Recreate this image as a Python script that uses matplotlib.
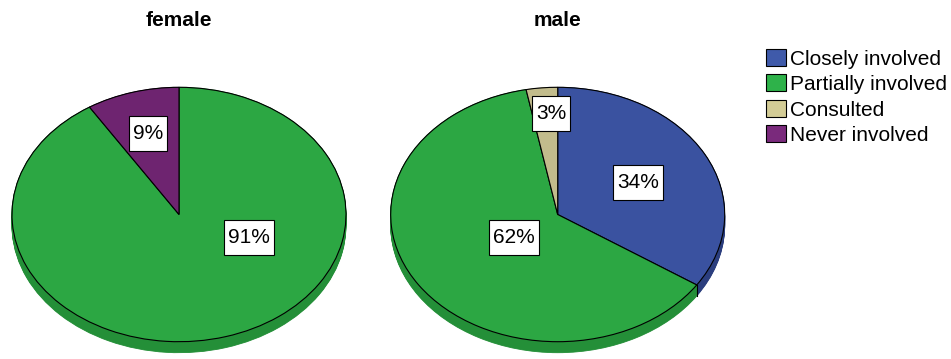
import numpy as np
import matplotlib
matplotlib.use("Agg")
import matplotlib.pyplot as plt
from matplotlib.patches import Patch
from matplotlib.path import Path

plt.rcParams['font.family'] = ['Liberation Sans', 'DejaVu Sans']

# data
categories = ["Closely involved", "Partially involved", "Consulted", "Never involved"]
groups = ["female", "male"]
female_pct = [0, 91, 0, 9]
male_pct = [34, 62, 3, 0]

# style
top_colors = ["#3A52A0", "#2CA743", "#C2BC8C", "#6E2470"]
side_colors = ["#2B3E7E", "#248F38", "#A09A6E", "#521A54"]
legend_colors = ["#3F5AAA", "#2EB24A", "#D3CC96", "#7A2A7C"]

# label positions (in unit-pie coords), one per non-zero slice
label_pos = {
    "female": {"Partially involved": (0.419, -0.181), "Never involved": (-0.186, 0.638)},
    "male": {"Closely involved": (0.479, 0.252), "Partially involved": (-0.262, -0.181),
             "Consulted": (-0.040, 0.795)},
}


def label_box(x0, y0, width, height, mutation_size):
    # rectangle with more vertical than horizontal padding, like SPSS labels
    px, py = 0.2 * mutation_size, 0.38 * mutation_size
    x0, y0 = x0 - px, y0 - py
    x1, y1 = x0 + width + 2 * px, y0 + height + 2 * py
    return Path([(x0, y0), (x1, y0), (x1, y1), (x0, y1), (x0, y0)], closed=True)


W, H = 951, 359
fig = plt.figure(figsize=(W / 100, H / 100), dpi=100)

# pie boxes in pixels
centers_x = [179, 557.7]
rx_px, ry_px, depth_px = 167, 127.2, 11
top_px = 87.3
depth = depth_px / ry_px

for g, cx, vals in zip(groups, centers_x, [female_pct, male_pct]):
    left = (cx - rx_px) / W
    bottom = (H - (top_px + 2 * ry_px + depth_px)) / H
    ax = fig.add_axes([left, bottom, 2 * rx_px / W, (2 * ry_px + depth_px) / H])

    idx = [i for i, v in enumerate(vals) if v > 0]
    v = [vals[i] for i in idx]

    # side band: stacked darker copies shifted downwards
    for s in np.linspace(depth, 0.0, 14):
        wedges, _ = ax.pie(v, colors=[side_colors[i] for i in idx], startangle=90,
                           counterclock=False, center=(0, -s),
                           wedgeprops=dict(linewidth=0.6))
        for w in wedges:
            w.set_edgecolor(w.get_facecolor())

    # top face
    ax.pie(v, colors=[top_colors[i] for i in idx], startangle=90,
           counterclock=False, center=(0, 0),
           wedgeprops=dict(edgecolor="black", linewidth=0.8))

    # boundary lines down the visible side
    cum = np.cumsum(v) / np.sum(v)
    for c in cum[:-1]:
        th = 2 * np.pi * c
        x, y = np.sin(th), np.cos(th)
        if y < 0:
            ax.plot([x, x], [y, y - depth], color="black", lw=0.8)

    for i in idx:
        lx, ly = label_pos[g][categories[i]]
        ax.text(lx, ly, f"{vals[i]}%", ha="center", va="center", fontsize=15,
                bbox=dict(boxstyle=label_box, facecolor="white",
                          edgecolor="black", linewidth=0.8))

    ax.set_aspect("auto")
    ax.set_xlim(-1.0, 1.0)
    ax.set_ylim(-1.0 - depth, 1.0)
    ax.axis("off")

    fig.text(cx / W, 1 - 20.5 / H, g, ha="center", va="center",
             fontsize=15, fontweight="bold")

handles = [Patch(facecolor=c, edgecolor="black", linewidth=0.8) for c in legend_colors]
fig.legend(handles, categories, loc="upper left", bbox_to_anchor=(766 / W, 1 - 49 / H),
           frameon=False, fontsize=15, handlelength=0.96, handleheight=0.87,
           handletextpad=0.2, labelspacing=0.28, borderpad=0, borderaxespad=0)

fig.savefig("out.png", dpi=100)
